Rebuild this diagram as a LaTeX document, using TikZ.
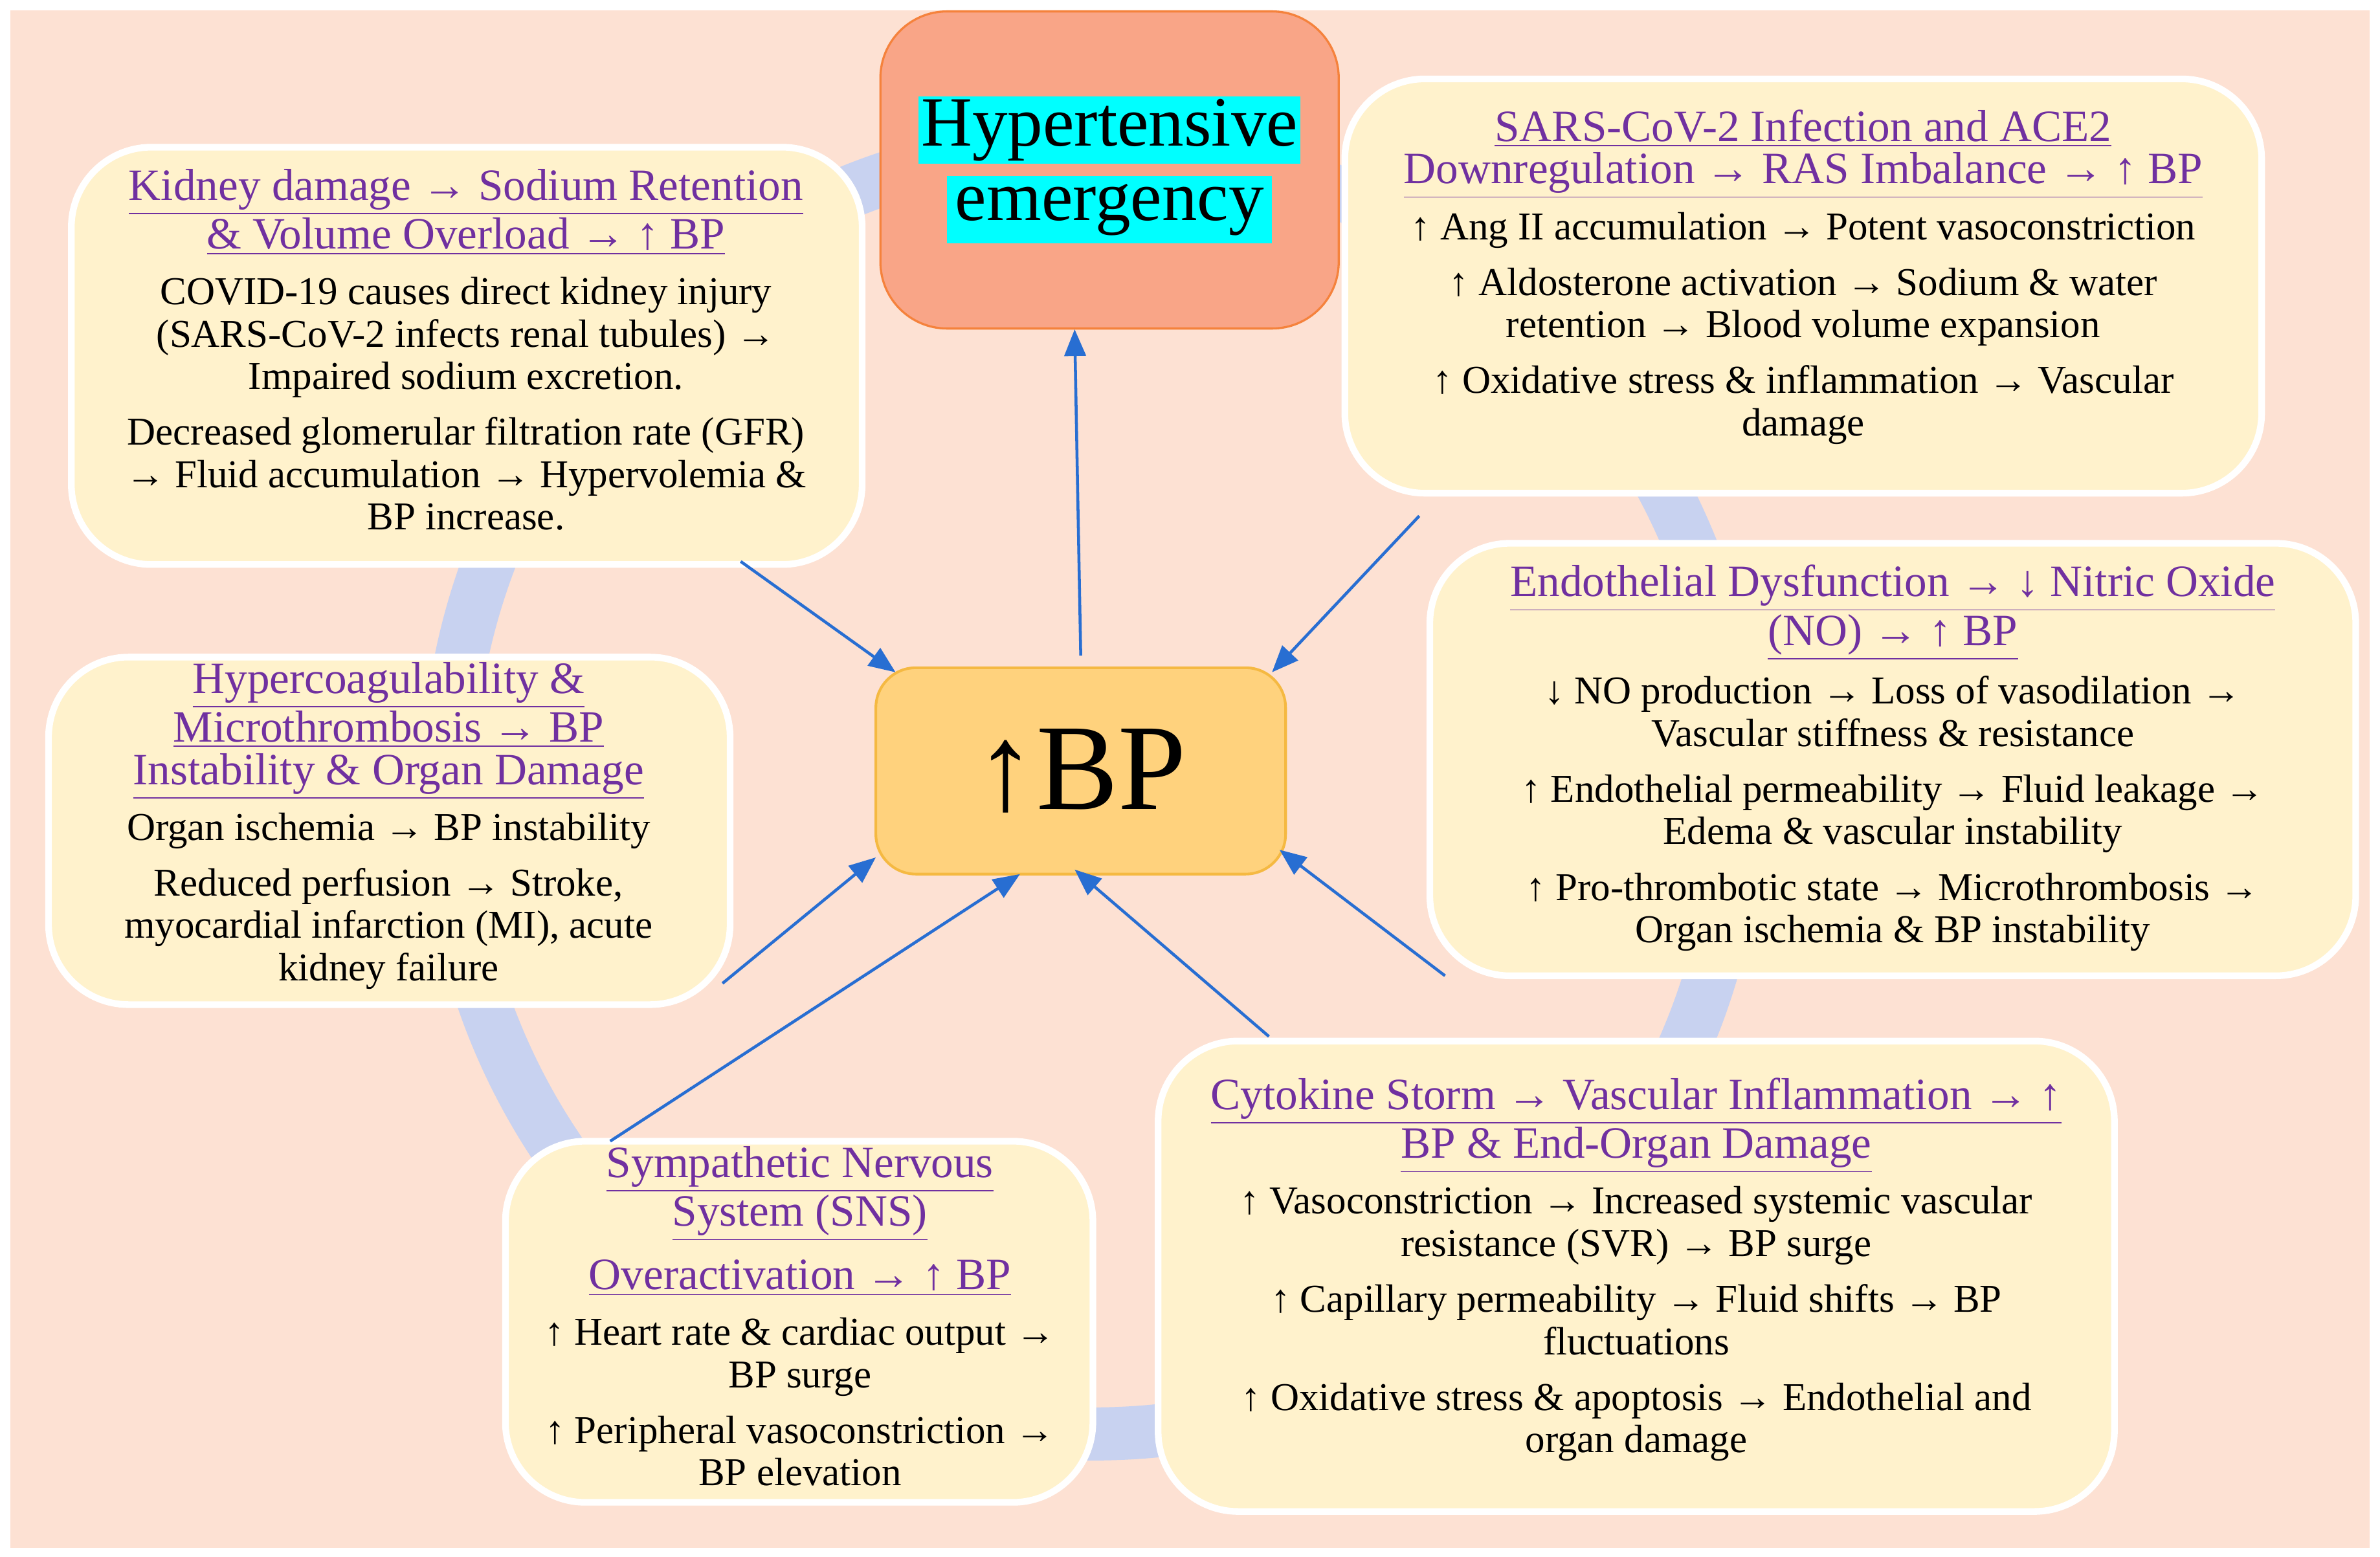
\documentclass[tikz,border=0pt]{standalone}
\usepackage{fontspec}
\setmainfont{Liberation Serif}
\usetikzlibrary{arrows.meta}
\definecolor{bgp}{RGB}{253,225,211}
\definecolor{ring}{RGB}{200,210,240}
\definecolor{boxf}{RGB}{255,242,204}
\definecolor{ttl}{RGB}{112,48,160}
\definecolor{arr}{RGB}{40,110,210}
\definecolor{salm}{RGB}{249,165,135}
\definecolor{salmb}{RGB}{245,130,60}
\definecolor{bpf}{RGB}{255,210,125}
\definecolor{bpb}{RGB}{245,185,66}
\definecolor{hl}{RGB}{0,255,255}
\tikzset{
 infobox/.style={draw=white,line width=2.5pt,fill=boxf,rounded corners=30pt},
 body/.style={align=center,font=\fontsize{14.8}{15.9}\selectfont,anchor=north,inner sep=0pt},
 link/.style={draw=arr,line width=1.1pt,-{Triangle[length=10pt,width=8pt]}}
}
\newcommand{\tl}[1]{\textcolor{ttl}{\fontsize{16.8}{17.6}\selectfont\underline{#1}}}
\begin{document}
\begin{tikzpicture}[x=0.02cm,y=-0.02cm]
\useasboundingbox (0,0) rectangle (1568,1026);
\fill[white] (0,0) rectangle (1568,1026);
\fill[bgp] (7,7) rectangle (1561,1020);
\draw[ring,line width=0.7cm] (720,520) circle[radius=8.5cm];
% hypertensive
\node[draw=salmb,fill=salm,rounded corners=25pt,minimum width=6.04cm,minimum height=4.18cm,line width=0.8pt] (he) at (731,112) {};
\node[align=center,font=\fontsize{26.5}{28}\selectfont,inner sep=0pt,text=black] (het) at (731,112) {\setlength\fboxsep{1pt}\colorbox{hl}{Hypertensive}\\\colorbox{hl}{emergency}};
% BP
\node[draw=bpb,fill=bpf,rounded corners=15pt,minimum width=5.4cm,minimum height=2.72cm,line width=1pt] (bp) at (712,508) {};
\node[font=\fontsize{46}{50}\selectfont,inner sep=0pt] (bpt) at (712,508) {↑BP};
% boxes
\draw[infobox] (47,97) rectangle (568,372); \coordinate (kid) at (307,97);
\draw[infobox] (886,52) rectangle (1490,325); \coordinate (sars) at (1188,52);
\draw[infobox] (942,358) rectangle (1552,643); \coordinate (endo) at (1247,358);
\draw[infobox] (32,433) rectangle (481,662); \coordinate (coag) at (256,433);
\draw[infobox] (333,752) rectangle (720,990); \coordinate (sns) at (527,752);
\draw[infobox] (763,686) rectangle (1393,996); \coordinate (cyt) at (1078,686);
\node[body] (kidt) at (307,111) {\tl{Kidney damage → Sodium Retention}\\\tl{\& Volume Overload → ↑ BP}\\[5pt]
COVID-19 causes direct kidney injury\\(SARS-CoV-2 infects renal tubules) →\\Impaired sodium excretion.\\[5pt]
Decreased glomerular filtration rate (GFR)\\→ Fluid accumulation → Hypervolemia \&\\BP increase.};
\node[body] (sarst) at (1188,72) {\tl{SARS-CoV-2 Infection and ACE2}\\\tl{Downregulation → RAS Imbalance → ↑ BP}\\[5pt]
↑ Ang II accumulation → Potent vasoconstriction\\[5pt]
↑ Aldosterone activation → Sodium \& water\\retention → Blood volume expansion\\[5pt]
↑ Oxidative stress \& inflammation → Vascular\\damage};
\node[body] (endot) at (1247,372) {\tl{Endothelial Dysfunction → ↓ Nitric Oxide}\\\tl{(NO) → ↑ BP}\\[5pt]
↓ NO production → Loss of vasodilation →\\Vascular stiffness \& resistance\\[5pt]
↑ Endothelial permeability → Fluid leakage →\\Edema \& vascular instability\\[5pt]
↑ Pro-thrombotic state → Microthrombosis →\\Organ ischemia \& BP instability};
\node[body] (coagt) at (256,436) {\tl{Hypercoagulability \&}\\\tl{Microthrombosis → BP}\\\tl{Instability \& Organ Damage}\\[5pt]
Organ ischemia → BP instability\\[5pt]
Reduced perfusion → Stroke,\\myocardial infarction (MI), acute\\kidney failure};
\node[body] (snst) at (527,755) {\tl{Sympathetic Nervous}\\\tl{System (SNS)}\\[6pt]
\tl{Overactivation → ↑ BP}\\[5pt]
↑ Heart rate \& cardiac output →\\BP surge\\[5pt]
↑ Peripheral vasoconstriction →\\BP elevation};
\node[body] (cytt) at (1078,710) {\tl{Cytokine Storm → Vascular Inflammation → ↑}\\\tl{BP \& End-Organ Damage}\\[5pt]
↑ Vasoconstriction → Increased systemic vascular\\resistance (SVR) → BP surge\\[5pt]
↑ Capillary permeability → Fluid shifts → BP\\fluctuations\\[5pt]
↑ Oxidative stress \& apoptosis → Endothelial and\\organ damage};
% arrows
\coordinate (a1) at (488,370); \coordinate (b1) at (590,443);
\coordinate (a2) at (712,432); \coordinate (b2) at (708,217);
\coordinate (a3) at (935,340); \coordinate (b3) at (838,443);
\coordinate (a4) at (952,643); \coordinate (b4) at (843,560);
\coordinate (a5) at (836,683); \coordinate (b5) at (708,573);
\coordinate (a6) at (402,752); \coordinate (b6) at (672,576);
\coordinate (a7) at (476,648); \coordinate (b7) at (577,565);
\foreach \i in {1,...,7}{\draw[link] (a\i) -- (b\i);}
\end{tikzpicture}
\end{document}
